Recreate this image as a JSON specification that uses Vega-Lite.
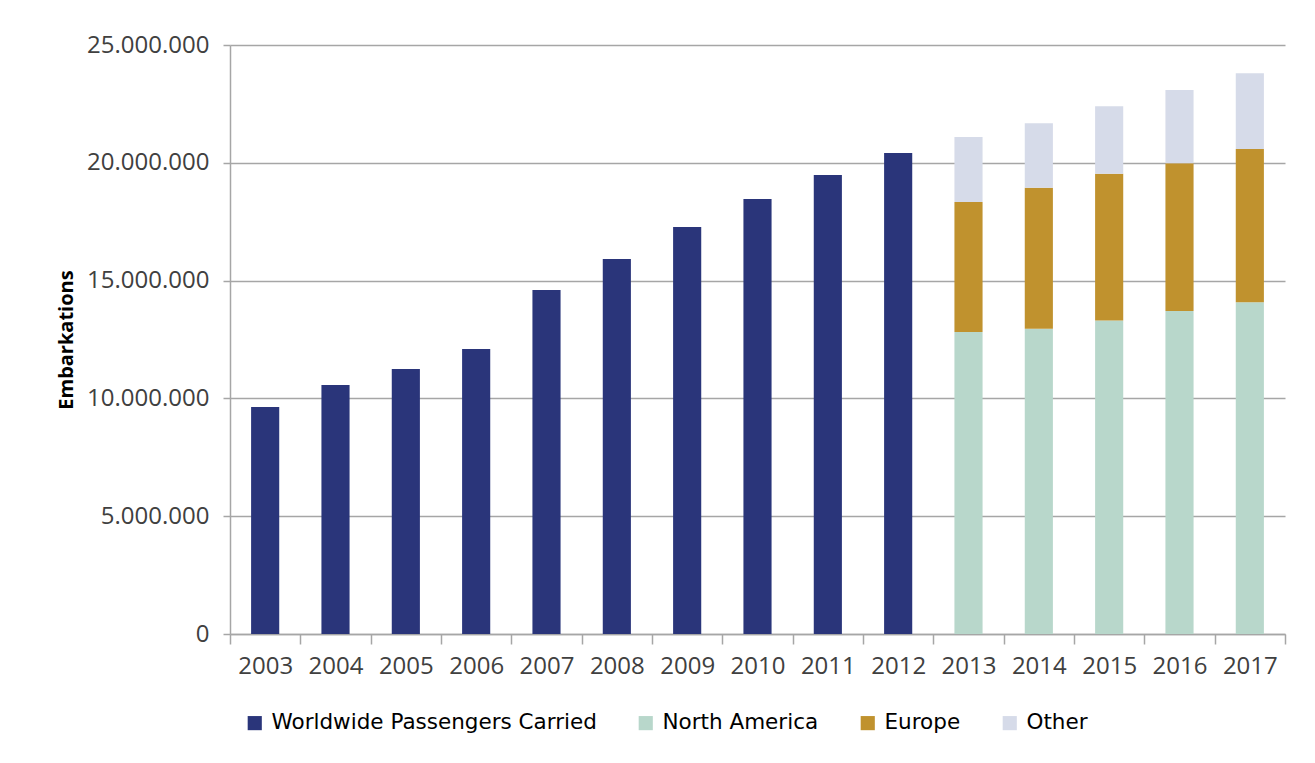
{
  "$schema": "https://vega.github.io/schema/vega-lite/v6.json",
  "width": 1055,
  "height": 589,
  "autosize": {"type": "none"},
  "padding": {"left": 230, "top": 45, "right": 30, "bottom": 129},
  "background": "white",
  "config": {
    "locale": {"number": {"decimal": ",", "thousands": ".", "grouping": [3], "currency": ["", ""]}},
    "view": {"stroke": null},
    "font": "Open Sans"
  },
  "data": {
    "values": [
      {"year": "2003", "series": "Worldwide Passengers Carried", "value": 9640000},
      {"year": "2004", "series": "Worldwide Passengers Carried", "value": 10570000},
      {"year": "2005", "series": "Worldwide Passengers Carried", "value": 11250000},
      {"year": "2006", "series": "Worldwide Passengers Carried", "value": 12100000},
      {"year": "2007", "series": "Worldwide Passengers Carried", "value": 14600000},
      {"year": "2008", "series": "Worldwide Passengers Carried", "value": 15920000},
      {"year": "2009", "series": "Worldwide Passengers Carried", "value": 17270000},
      {"year": "2010", "series": "Worldwide Passengers Carried", "value": 18460000},
      {"year": "2011", "series": "Worldwide Passengers Carried", "value": 19480000},
      {"year": "2012", "series": "Worldwide Passengers Carried", "value": 20420000},
      {"year": "2013", "series": "North America", "value": 12820000},
      {"year": "2013", "series": "Europe", "value": 5520000},
      {"year": "2013", "series": "Other", "value": 2760000},
      {"year": "2014", "series": "North America", "value": 12960000},
      {"year": "2014", "series": "Europe", "value": 5980000},
      {"year": "2014", "series": "Other", "value": 2740000},
      {"year": "2015", "series": "North America", "value": 13310000},
      {"year": "2015", "series": "Europe", "value": 6230000},
      {"year": "2015", "series": "Other", "value": 2860000},
      {"year": "2016", "series": "North America", "value": 13710000},
      {"year": "2016", "series": "Europe", "value": 6270000},
      {"year": "2016", "series": "Other", "value": 3110000},
      {"year": "2017", "series": "North America", "value": 14080000},
      {"year": "2017", "series": "Europe", "value": 6510000},
      {"year": "2017", "series": "Other", "value": 3210000}
    ]
  },
  "transform": [
    {"calculate": "indexof(['Worldwide Passengers Carried','North America','Europe','Other'], datum.series)", "as": "stackOrder"}
  ],
  "mark": {"type": "bar", "width": {"band": 0.4}},
  "encoding": {
    "x": {
      "field": "year",
      "type": "ordinal",
      "scale": {"paddingInner": 0, "paddingOuter": 0},
      "axis": {
        "title": null,
        "labelAngle": 0,
        "labelFontSize": 24,
        "labelColor": "#404040",
        "labelPadding": 10,
        "tickBand": "extent",
        "tickSize": 10,
        "tickColor": "#a6a6a6",
        "tickWidth": 1.5,
        "domainColor": "#a6a6a6",
        "domainWidth": 1.5,
        "grid": false
      }
    },
    "y": {
      "field": "value",
      "type": "quantitative",
      "stack": "zero",
      "scale": {"domain": [0, 25000000], "nice": false},
      "axis": {
        "title": "Embarkations",
        "titleFontSize": 20,
        "titleFontWeight": "bold",
        "titleColor": "#000000",
        "titlePadding": 10,
        "values": [0, 5000000, 10000000, 15000000, 20000000, 25000000],
        "format": ",d",
        "labelFontSize": 24,
        "labelColor": "#404040",
        "labelPadding": 14,
        "tickSize": 7,
        "tickColor": "#a6a6a6",
        "tickWidth": 1.5,
        "domainColor": "#a6a6a6",
        "domainWidth": 1.5,
        "gridColor": "#a6a6a6",
        "gridWidth": 1.5
      }
    },
    "color": {
      "field": "series",
      "type": "nominal",
      "scale": {
        "domain": ["Worldwide Passengers Carried", "North America", "Europe", "Other"],
        "range": ["#2a357a", "#b8d7cb", "#c0922e", "#d6dbe9"]
      },
      "legend": {
        "title": null,
        "orient": "none",
        "direction": "horizontal",
        "legendX": 14,
        "legendY": 667,
        "symbolType": "square",
        "symbolSize": 200,
        "symbolStrokeWidth": 0,
        "labelFontSize": 21.5,
        "labelFont": "DejaVu Sans",
        "labelColor": "#000000",
        "labelLimit": 500,
        "columnPadding": 38,
        "labelOffset": 6
      }
    },
    "order": {"field": "stackOrder", "type": "quantitative"}
  }
}
